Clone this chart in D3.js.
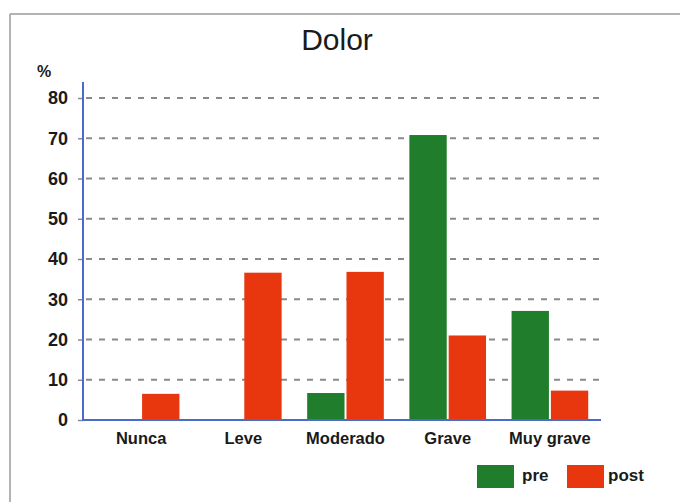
<!DOCTYPE html>
<html>
<head>
<meta charset="utf-8">
<script src="https://cdn.jsdelivr.net/npm/d3@7"></script>
<style>
  html, body { margin: 0; padding: 0; background: #ffffff; }
  svg { display: block; font-family: "Liberation Sans", Arial, Helvetica, sans-serif; }
</style>
</head>
<body>
<svg id="chart" width="680" height="502"></svg>
<script>
const title = "Dolor";
const yUnit = "%";
const categories = ["Nunca", "Leve", "Moderado", "Grave", "Muy grave"];
const seriesNames = ["pre", "post"];
const preValues = [0, 0, 6.7, 70.8, 27.1];
const postValues = [6.5, 36.6, 36.8, 21.0, 7.3];
const yTicks = [0, 10, 20, 30, 40, 50, 60, 70, 80];
const seriesColors = ["#1f7d2c", "#e8370f"];

const svg = d3.select("#chart");

// outer frame (top and left edges visible)
svg.append("line").attr("x1", 10).attr("y1", 14).attr("x2", 680).attr("y2", 14)
  .attr("stroke", "#9a9a9a").attr("stroke-width", 1.5);
svg.append("line").attr("x1", 10).attr("y1", 14).attr("x2", 10).attr("y2", 502)
  .attr("stroke", "#9a9a9a").attr("stroke-width", 1.5);

const axisX = 83;
const y = d3.scaleLinear().domain([0, 80]).range([420, 98]);
const x0 = d3.scaleBand().domain(categories).range([90, 601]).paddingInner(0.25).paddingOuter(0.125);
const x1 = d3.scaleBand().domain(seriesNames).range([0, x0.bandwidth()]).paddingInner(0.05);
const color = d3.scaleOrdinal().domain(seriesNames).range(seriesColors);

// title
svg.append("text").attr("x", 337).attr("y", 50).attr("text-anchor", "middle")
  .attr("font-size", 30).attr("fill", "#1a1a1a").text(title);

// gridlines
svg.append("g").selectAll("line").data(yTicks.filter(d => d > 0)).join("line")
  .attr("x1", axisX + 3).attr("x2", 601)
  .attr("y1", d => y(d)).attr("y2", d => y(d))
  .attr("stroke", "#8a8a8a").attr("stroke-width", 2)
  .attr("stroke-dasharray", "6,7");

// bars
const data = categories.map((c, i) => ({ cat: c, values: [
  { key: "pre", value: preValues[i] },
  { key: "post", value: postValues[i] }
]}));

const groups = svg.append("g").selectAll("g").data(data).join("g")
  .attr("transform", d => `translate(${x0(d.cat)},0)`);
groups.selectAll("rect").data(d => d.values.filter(v => v.value > 0)).join("rect")
  .attr("x", d => x1(d.key))
  .attr("width", x1.bandwidth())
  .attr("y", d => y(d.value))
  .attr("height", d => y(0) - y(d.value))
  .attr("fill", d => color(d.key));

// y axis
const yAxis = d3.axisLeft(y).tickValues(yTicks).tickSize(5).tickPadding(10);
const gy = svg.append("g").attr("transform", `translate(${axisX},0)`).call(yAxis);
gy.select(".domain").remove();
gy.selectAll(".tick line").attr("stroke", "#8a8a9a").attr("stroke-width", 1.5);
gy.selectAll(".tick text").attr("font-size", 18).attr("font-weight", "bold")
  .attr("fill", "#1a1a1a").attr("font-family", "Liberation Sans, Arial, sans-serif");

svg.append("line").attr("x1", axisX).attr("x2", axisX).attr("y1", 82).attr("y2", y(0) + 1)
  .attr("stroke", "#4a6cc8").attr("stroke-width", 2);
svg.append("line").attr("x1", axisX).attr("x2", 601).attr("y1", y(0)).attr("y2", y(0))
  .attr("stroke", "#4a6cc8").attr("stroke-width", 2);

svg.append("text").attr("x", 37).attr("y", 77).attr("font-size", 16).attr("font-weight", "bold")
  .attr("fill", "#1a1a1a").text(yUnit);

// x labels
const xAxis = d3.axisBottom(x0).tickSize(0).tickPadding(12);
const gx = svg.append("g").attr("transform", `translate(0,${y(0)})`).call(xAxis);
gx.select(".domain").remove();
gx.selectAll(".tick text").attr("font-size", 16.5).attr("font-weight", "bold")
  .attr("fill", "#1a1a1a").attr("font-family", "Liberation Sans, Arial, sans-serif");

// legend
const legendPos = [{ key: "pre", sx: 477, tx: 522 }, { key: "post", sx: 567, tx: 608 }];
const lg = svg.append("g").selectAll("g").data(legendPos).join("g");
lg.append("rect").attr("x", d => d.sx).attr("y", 465).attr("width", 37).attr("height", 23)
  .attr("fill", d => color(d.key));
lg.append("text").attr("x", d => d.tx).attr("y", 481).attr("font-size", 17).attr("font-weight", "bold")
  .attr("fill", "#1a1a1a").text(d => d.key);
</script>
</body>
</html>
